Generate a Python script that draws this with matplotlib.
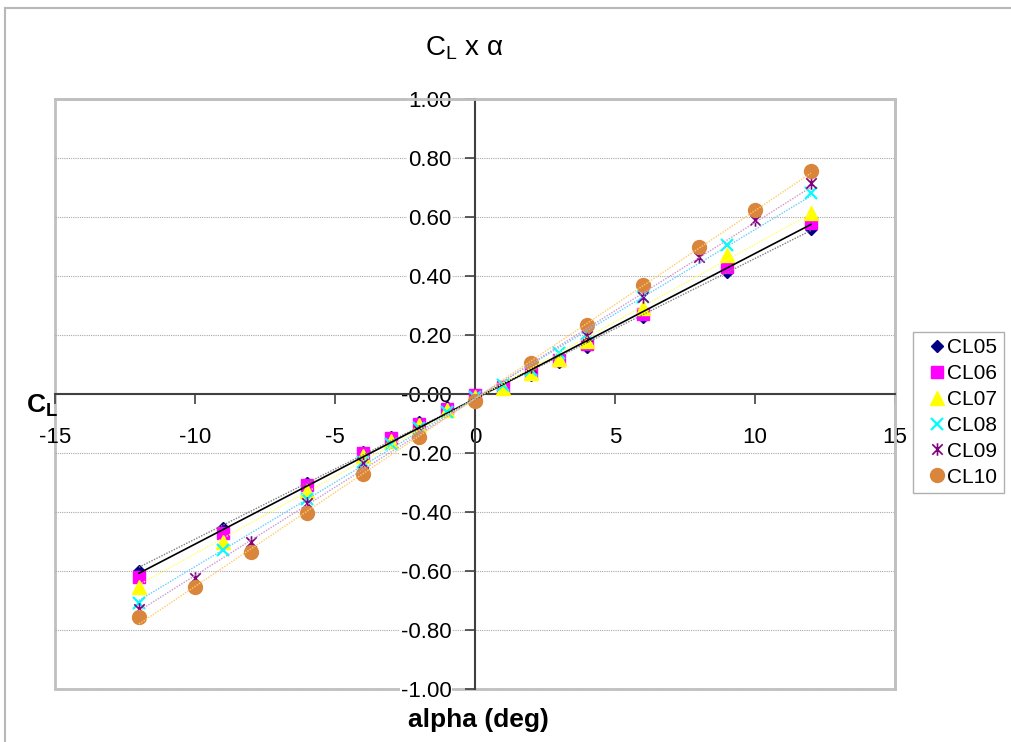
import numpy as np
import matplotlib
matplotlib.use('Agg')
import matplotlib.pyplot as plt
from matplotlib.lines import Line2D
from matplotlib.patches import Rectangle
from matplotlib.path import Path
from matplotlib.ticker import FormatStrFormatter

plt.rcParams['font.family'] = ['Liberation Sans', 'DejaVu Sans']
plt.rcParams['mathtext.fontset'] = 'custom'
plt.rcParams['mathtext.rm'] = 'Liberation Sans'
plt.rcParams['mathtext.bf'] = 'Liberation Sans:bold'
plt.rcParams['axes.unicode_minus'] = False

# Lift coefficient vs angle of attack, six runs
alpha_a = [-12, -9, -6, -4, -3, -2, -1, 0, 1, 2, 3, 4, 6, 9, 12]
alpha_b = [-12, -10, -8, -6, -4, -2, 0, 2, 4, 6, 8, 10, 12]

cl05 = [-0.60, -0.455, -0.30, -0.195, -0.145, -0.095, -0.045, -0.005, 0.025, 0.065, 0.11, 0.16, 0.26, 0.415, 0.56]
cl06 = [-0.62, -0.47, -0.31, -0.20, -0.15, -0.10, -0.05, -0.005, 0.025, 0.07, 0.115, 0.17, 0.27, 0.43, 0.58]
cl07 = [-0.655, -0.50, -0.33, -0.21, -0.16, -0.105, -0.055, -0.01, 0.02, 0.07, 0.12, 0.18, 0.29, 0.47, 0.615]
cl08 = [-0.71, -0.53, -0.355, -0.23, -0.17, -0.115, -0.06, -0.01, 0.03, 0.08, 0.14, 0.205, 0.33, 0.505, 0.68]
cl09 = [-0.73, -0.625, -0.50, -0.37, -0.235, -0.125, -0.02, 0.09, 0.195, 0.33, 0.465, 0.59, 0.715]
cl10 = [-0.755, -0.655, -0.535, -0.405, -0.27, -0.145, -0.025, 0.105, 0.235, 0.37, 0.50, 0.625, 0.755]

names = ['CL05', 'CL06', 'CL07', 'CL08', 'CL09', 'CL10']

# asterisk marker: x with a vertical stroke
star = Path([(-1, -1), (1, 1), (-1, 1), (1, -1), (0, -1.2), (0, 1.2)],
            [Path.MOVETO, Path.LINETO, Path.MOVETO, Path.LINETO, Path.MOVETO, Path.LINETO])

series = [
    (alpha_a, cl05, dict(marker='D', color='#000080', ms=6), dict(color='#808080', ls=(0, (1, 1)), lw=1.0)),
    (alpha_a, cl06, dict(marker='s', color='#ff00ff', ms=9), dict(color='black', ls='-', lw=1.2)),
    (alpha_a, cl07, dict(marker='^', color='#ffff00', ms=10), dict(color='#ffff66', ls=(0, (1, 1)), lw=1.0)),
    (alpha_a, cl08, dict(marker='x', color='#00ffff', ms=9, mew=1.6), dict(color='#66ccff', ls=(0, (1, 1)), lw=1.0)),
    (alpha_b, cl09, dict(marker=star, color='#800080', ms=9, mew=1.2), dict(color='#cc99cc', ls=(0, (1, 1)), lw=1.0)),
    (alpha_b, cl10, dict(marker='o', color='#d9863c', ms=10), dict(color='#ffcc66', ls=(0, (1, 1)), lw=1.0)),
]

fig = plt.figure(figsize=(10.11, 7.42), dpi=100)
ax = fig.add_axes([55 / 1011, 1 - 689 / 742, 840 / 1011, 590 / 742])

handles = []
for i, (x, y, mk, tl) in enumerate(series):
    h, = ax.plot(x, y, ls='none', zorder=3 + i * 0.1, **mk)
    handles.append(h)
for x, y, mk, tl in series:
    k, b = np.polyfit(x, y, 1)
    xs = np.array([min(x), max(x)])
    ax.plot(xs, k * xs + b, zorder=4, **tl)

ax.set_xlim(-15, 15)
ax.set_ylim(-1, 1)
ax.set_xticks(np.arange(-15, 16, 5))
ax.set_yticks(np.arange(-1, 1.01, 0.2))
ax.yaxis.set_major_formatter(FormatStrFormatter('%.2f'))
ax.yaxis.grid(True, color='#a8a8a8', ls=(0, (1, 1)), lw=0.8)
ax.set_axisbelow(True)

ax.spines['left'].set_position(('data', 0))
ax.spines['bottom'].set_position(('data', 0))
for s in ('left', 'bottom'):
    ax.spines[s].set_color('#404040')
    ax.spines[s].set_linewidth(1.5)
for s in ('top', 'right'):
    ax.spines[s].set_color('#c0c0c0')
    ax.spines[s].set_linewidth(2)
ax.add_patch(Rectangle((0, 0), 1, 1, transform=ax.transAxes, fill=False,
                       ec='#c0c0c0', lw=2, clip_on=False, zorder=0.5))

ax.tick_params(axis='x', direction='out', length=7, width=1.2, color='#404040',
               pad=17, labelsize=16)
ax.tick_params(axis='y', direction='out', length=7, width=1.2, color='#404040',
               pad=10, labelsize=16)
# y labels sit on white so the dotted grid stops at the text
fig.canvas.draw()
for lab in ax.get_yticklabels():
    lab.set_bbox(dict(fc='white', ec='none', pad=0.5))

fig.text(464 / 1011, 1 - 48 / 742, r'C$_\mathrm{L}$ x α', fontsize=20,
         ha='center', va='center')
fig.text(478 / 1011, 1 - 720 / 742, 'alpha (deg)', fontsize=19,
         fontweight='bold', ha='center', va='center')
fig.text(26 / 1011, 1 - 406 / 742, r'$\mathbf{C_L}$', fontsize=19,
         ha='left', va='center')

fig.legend(handles, names, loc='upper left', bbox_to_anchor=(913 / 1011, 1 - 332 / 742),
           frameon=True, fancybox=False, edgecolor='#b0b0b0', framealpha=1,
           fontsize=15, handlelength=1.7, handletextpad=-0.35, borderpad=0.3,
           labelspacing=0.33, borderaxespad=0)

# outer chart border
fig.add_artist(Line2D([5 / 1011, 1.0], [1 - 8 / 742] * 2, transform=fig.transFigure,
                      color='#b8b8b8', lw=1.5))
fig.add_artist(Line2D([5 / 1011] * 2, [0, 1 - 8 / 742], transform=fig.transFigure,
                      color='#b8b8b8', lw=1.5))

fig.savefig('out.png', dpi=100)
